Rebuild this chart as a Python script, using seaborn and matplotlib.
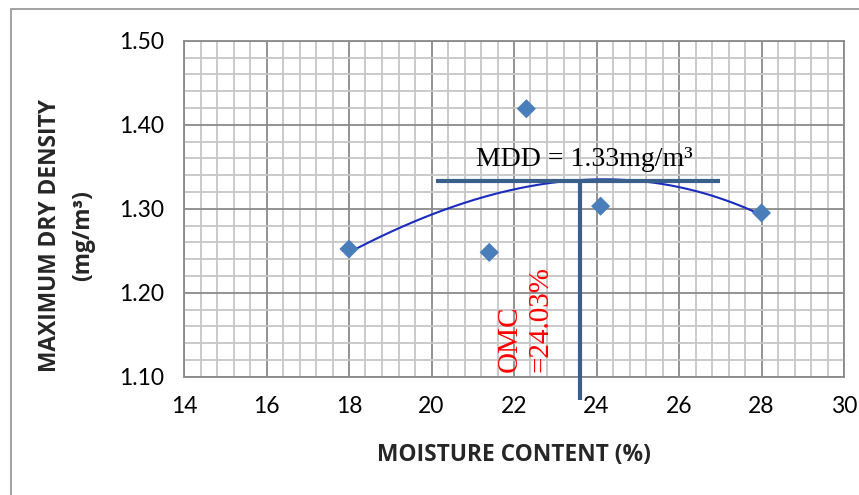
import numpy as np
import pandas as pd
import matplotlib
matplotlib.use("Agg")
import matplotlib.pyplot as plt
from matplotlib.ticker import MultipleLocator
from matplotlib.patches import Rectangle
import seaborn as sns

# data
moisture = [18.0, 21.4, 22.3, 24.1, 28.0]
density = [1.252, 1.248, 1.419, 1.303, 1.295]
mdd = 1.333
omc_line_x = 23.6
mdd_line_x = [20.1, 27.0]
x_ticks = [14, 16, 18, 20, 22, 24, 26, 28, 30]
y_ticks = [1.10, 1.20, 1.30, 1.40, 1.50]

df = pd.DataFrame({"mc": moisture, "dd": density})

sns.set_style("white")
plt.rcParams["font.family"] = ["Lato", "DejaVu Sans"]

fig = plt.figure(figsize=(8.59, 4.95), dpi=100)
ax = fig.add_axes([184 / 859, 1 - 376.7 / 495, 660 / 859, 336 / 495])

# outer chart frame
fig.patches.append(Rectangle((11 / 859, -0.1), 1.2, 1 - 9 / 495 + 0.1,
                             transform=fig.transFigure, fill=False,
                             edgecolor="#9a9a9a", lw=1.3))

# polynomial trendline
sns.regplot(data=df, x="mc", y="dd", order=3, ci=None, scatter=False,
            truncate=True, ax=ax, line_kws=dict(color="#1a2bbf", lw=1.5, zorder=3))
sns.scatterplot(data=df, x="mc", y="dd", marker="D", s=95, color="#4a7ebb",
                edgecolor="none", ax=ax, zorder=4)

# MDD / OMC guide lines
ax.plot(mdd_line_x, [mdd, mdd], color="#3a5f8b", lw=3, solid_capstyle="butt", zorder=5)
ax.plot([omc_line_x, omc_line_x], [mdd, 1.072], color="#3a5f8b", lw=3,
        solid_capstyle="butt", clip_on=False, zorder=5)

ax.text(23.7, 1.351, "MDD = 1.33mg/m\u00b3", family="Liberation Serif",
        fontsize=20, ha="center", va="baseline", color="black", zorder=6)
ax.text(22.27, 1.106, "OMC\n=24.03%", family="Liberation Serif", fontsize=21,
        color="red", rotation=90, ha="center", va="bottom",
        multialignment="left", linespacing=1.2, zorder=6)

ax.set_xlim(14, 30)
ax.set_ylim(1.10, 1.50)
ax.set_xticks(x_ticks)
ax.set_yticks(y_ticks)
ax.set_yticklabels([f"{v:.2f}" for v in y_ticks])
ax.xaxis.set_minor_locator(MultipleLocator(0.4))
ax.yaxis.set_minor_locator(MultipleLocator(0.02))
ax.set_axisbelow(True)
ax.grid(which="minor", color="#c6c6c6", lw=1.3)
ax.grid(which="major", color="#8a8a8a", lw=1.3)
ax.tick_params(which="major", direction="out", length=8, width=1.3,
               color="#8a8a8a", labelsize=16.5, pad=6, labelcolor="black")
ax.tick_params(which="minor", length=0)
for s in ax.spines.values():
    s.set_color("#8a8a8a")
    s.set_linewidth(1.3)

ax.set_xlabel("")
ax.set_ylabel("")
lab_font = ["Open Sans", "DejaVu Sans"]
fig.text(514 / 859, 1 - 455 / 495, "MOISTURE CONTENT (%)", fontsize=16.4,
         fontweight="bold", family=lab_font, ha="center", va="center")
fig.text(50 / 859, 1 - 236 / 495, "MAXIMUM DRY DENSITY", fontsize=16.4,
         fontweight="bold", family=lab_font, rotation=90, ha="center", va="center")
fig.text(83 / 859, 1 - 236 / 495, "(mg/m\u00b3)", fontsize=16.4,
         fontweight="bold", family=lab_font, rotation=90, ha="center", va="center")

fig.savefig("out.png", dpi=100)
